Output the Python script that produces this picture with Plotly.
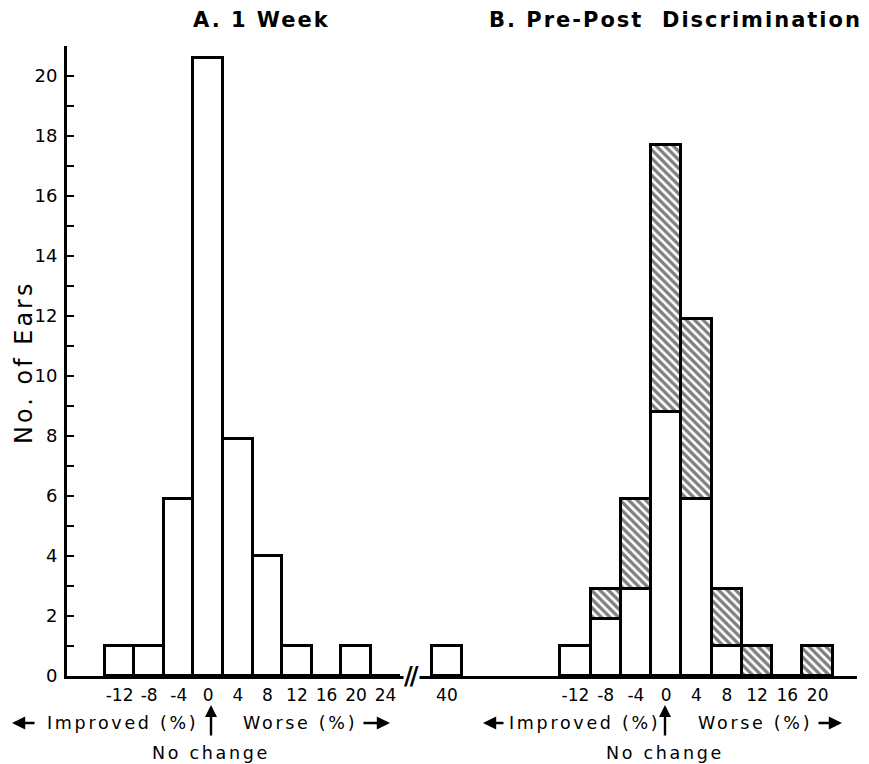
import plotly.graph_objects as go

# ---------------- data ----------------
A_LABELS = ["-12", "-8", "-4", "0", "4", "8", "12", "16", "20", "24", "40"]
A_BINS = [-12, -8, -4, 0, 4, 8, 12, 16, 20, 24, 40]
A_COUNTS = [1, 1, 5.9, 20.6, 7.9, 4, 1, 0, 1, 0, 1]

B_LABELS = ["-12", "-8", "-4", "0", "4", "8", "12", "16", "20"]
B_BINS = [-12, -8, -4, 0, 4, 8, 12, 16, 20]
B_WHITE = [1, 1.9, 2.9, 8.8, 5.9, 1, 0, 0, 0]
B_TOTAL = [1, 2.9, 5.9, 17.7, 11.9, 2.9, 1, 0, 1]
B_HATCH = [round(t - w, 2) for t, w in zip(B_TOTAL, B_WHITE)]

Y_TICKS = list(range(0, 22))
Y_LABELS = [str(v) if v % 2 == 0 and v <= 20 else "" for v in Y_TICKS]

# broken axis in panel A: values beyond 24 are pulled left
A_BREAK_FROM = 24
A_GAP_SHIFT = 7.7
A_POS = [v if v <= A_BREAK_FROM else v - A_GAP_SHIFT for v in A_BINS]
BREAK_AT = 27.5

# ---------------- layout constants ----------------
W, H = 869, 764
L, R, T, B = 67, 12, 46, 88
PW, PH = W - L - R, H - T - B


def px(x):
    return (x - L) / PW


def py(y):
    return (H - B - y) / PH


def spaced(s, sp):
    return f'<span style="letter-spacing:{sp}px">{s}</span>'


SPLIT = px(480)
FONT = "DejaVu Sans"
BLACK = "#000000"
LW = 2.8

fig = go.Figure()

fig.add_trace(go.Bar(
    x=A_POS, y=A_COUNTS, width=4, xaxis="x", yaxis="y",
    marker=dict(color="white", line=dict(color=BLACK, width=LW)),
    showlegend=False, hoverinfo="skip",
))
fig.add_trace(go.Bar(
    x=B_BINS, y=B_WHITE, width=4, xaxis="x2", yaxis="y",
    marker=dict(color="white", line=dict(color=BLACK, width=LW)),
    showlegend=False, hoverinfo="skip",
))
fig.add_trace(go.Bar(
    x=B_BINS, y=B_HATCH, width=4, xaxis="x2", yaxis="y",
    marker=dict(color="white", line=dict(color=BLACK, width=LW),
                pattern=dict(shape="\\", fgcolor=BLACK, bgcolor="white",
                             size=6, solidity=0.55)),
    showlegend=False, hoverinfo="skip",
))

axis_common = dict(
    showline=True, linecolor=BLACK, linewidth=LW, showgrid=False,
    zeroline=False, ticks="", tickfont=dict(family=FONT, size=17, color=BLACK),
    fixedrange=True, ticklabelstandoff=2,
)

fig.update_layout(
    width=W, height=H,
    margin=dict(l=L, r=R, t=T, b=B),
    paper_bgcolor="white", plot_bgcolor="white",
    barmode="stack", bargap=0,
    xaxis=dict(domain=[0, SPLIT], range=[-19.12, 36.78], anchor="y",
               tickmode="array", tickvals=A_POS, ticktext=A_LABELS, **axis_common),
    xaxis2=dict(domain=[SPLIT, 1], range=[-24.6, 25.2], anchor="y",
                tickmode="array", tickvals=B_BINS, ticktext=B_LABELS, **axis_common),
    yaxis=dict(domain=[0, 1], range=[0, 21], anchor="x",
               showline=True, linecolor=BLACK, linewidth=LW, showgrid=False,
               zeroline=False, ticks="inside", ticklen=7, tickwidth=2,
               tickcolor=BLACK, tickmode="array", tickvals=Y_TICKS,
               ticktext=Y_LABELS, tickfont=dict(family=FONT, size=18, color=BLACK),
               ticklabelstandoff=3, fixedrange=True),
    font=dict(family=FONT, color=BLACK),
)

ann = []
# titles
ann.append(dict(text=spaced("<b>A. 1 Week</b>", 2), x=px(261), y=py(20), xref="paper",
                yref="paper", showarrow=False, font=dict(size=21, family=FONT),
                xanchor="center", yanchor="middle"))
ann.append(dict(text=spaced("<b>B. Pre-Post  Discrimination</b>", 2), x=px(675), y=py(20),
                xref="paper", yref="paper", showarrow=False, font=dict(size=21, family=FONT),
                xanchor="center", yanchor="middle"))
# y title
ann.append(dict(text=spaced("No. of Ears", 3), x=px(24), y=py(363), xref="paper",
                yref="paper", showarrow=False, textangle=-90,
                font=dict(size=24, family=FONT), xanchor="center", yanchor="middle"))
# axis break marker
ann.append(dict(text=spaced("<b>//</b>", -3), x=BREAK_AT, y=0, xref="x", yref="paper",
                showarrow=False, font=dict(size=24, family=FONT), bgcolor="white",
                xanchor="center", yanchor="middle", borderpad=0))

ROW1, ROW2 = 723, 753
TXT = dict(size=17.5, family=FONT)


def bottom_labels(improved_cx, la, zero_px, worse_cx, ra):
    out = []
    out.append(dict(text=spaced("Improved (%)", 2.7), x=px(improved_cx), y=py(ROW1),
                    xref="paper", yref="paper", showarrow=False, font=TXT,
                    xanchor="center", yanchor="middle"))
    out.append(dict(text=spaced("Worse (%)", 2.7), x=px(worse_cx), y=py(ROW1),
                    xref="paper", yref="paper", showarrow=False, font=TXT,
                    xanchor="center", yanchor="middle"))
    out.append(dict(text=spaced("No change", 2.7), x=px(zero_px), y=py(ROW2),
                    xref="paper", yref="paper", showarrow=False, font=TXT,
                    xanchor="center", yanchor="middle"))
    # arrows
    out.append(dict(text="", x=px(la[0]), y=py(ROW1), xref="paper", yref="paper",
                    showarrow=True, ax=la[1] - la[0], ay=0, arrowhead=2, arrowsize=1.1,
                    arrowwidth=2.4, arrowcolor=BLACK))
    out.append(dict(text="", x=px(ra[1]), y=py(ROW1), xref="paper", yref="paper",
                    showarrow=True, ax=ra[0] - ra[1], ay=0, arrowhead=2, arrowsize=1.1,
                    arrowwidth=2.4, arrowcolor=BLACK))
    out.append(dict(text="", x=px(zero_px), y=py(705), xref="paper", yref="paper",
                    showarrow=True, ax=0, ay=32, arrowhead=2, arrowsize=1.0,
                    arrowwidth=2.4, arrowcolor=BLACK))
    return out


ann += bottom_labels(122, (12, 36), 211, 300, (362, 390))
ann += bottom_labels(584, (483, 505), 665, 755, (817, 842))

fig.update_layout(annotations=ann)

fig.write_html("out.html")
